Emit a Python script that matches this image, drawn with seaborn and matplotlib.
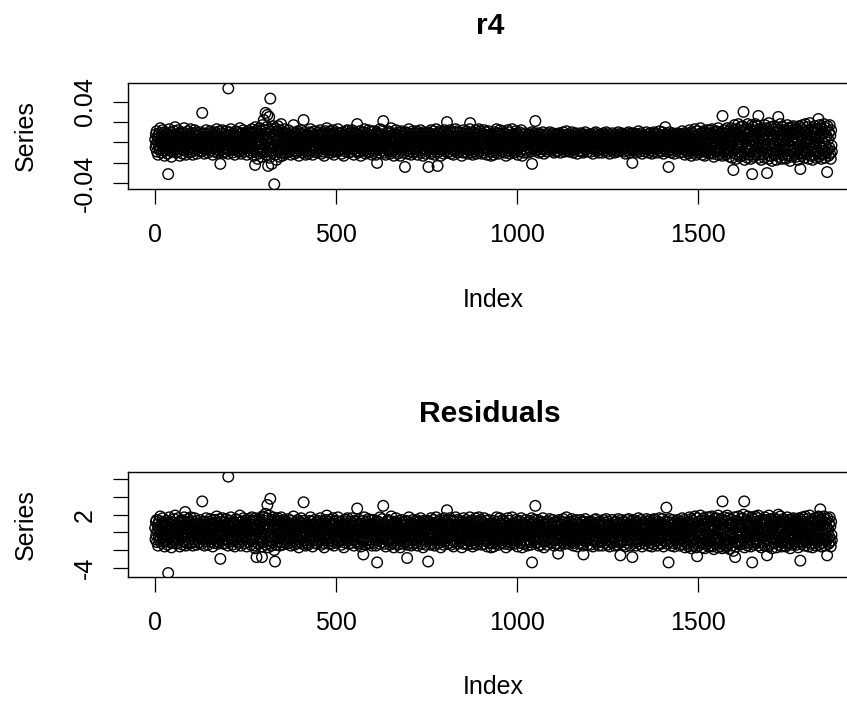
import numpy as np
import pandas as pd
import matplotlib
matplotlib.use("Agg")
import matplotlib.pyplot as plt
import seaborn as sns

# ---- data ----
# r4 series, in thousandths (0.001 units)
r4_permille = [
3,-5,8,-2,11,-9,1,6,-12,4,-3,9,-7,2,14,-6,0,-10,5,7,-4,12,-1,-8,3,10,-13,6,-2,1,
-6,4,9,-3,-11,7,-31,2,-5,13,-8,0,6,-2,10,-14,3,5,-9,8,-1,-4,11,2,-7,15,-3,6,-10,1,
7,-2,-9,12,4,-6,1,9,-13,3,-4,8,-1,10,-7,5,-11,2,6,-3,14,-8,0,-5,9,-12,4,7,-2,3,
-4,11,-7,2,6,-10,8,-1,13,-5,3,-9,5,0,-12,9,-3,7,-6,12,1,-8,4,-2,10,-11,6,-4,2,8,
-3,7,-8,2,10,-5,4,-1,-9,6,29,3,-6,9,-2,1,-11,5,8,-4,0,12,-7,3,-5,6,-10,2,9,-1,
4,-6,11,-2,-8,5,1,9,-4,-12,7,3,-3,6,-9,10,0,-5,8,-1,13,-7,2,-10,4,6,-3,-8,11,-2,
-21,5,-4,9,2,-7,12,-1,6,-10,3,-5,8,1,-9,4,11,-3,-6,7,0,-11,53,2,-8,10,-2,5,-4,13,
-5,8,1,-10,6,-3,9,-7,4,0,-12,7,-2,11,3,-8,5,-4,10,-1,-6,2,8,-9,14,-3,4,-11,6,1,
9,-4,-7,3,12,-2,5,-9,1,8,-6,10,-3,-12,4,7,-1,6,-8,2,11,-5,0,9,-10,3,-4,13,-6,2,
10,-6,4,-13,8,1,-22,15,-3,7,-9,12,-1,-16,6,3,-11,9,-5,14,2,-8,11,-4,-14,6,17,-2,-10,5,
22,-7,12,-3,9,29,-12,4,15,-9,27,1,-23,8,-5,25,-15,6,43,-2,11,-8,-21,13,3,-10,16,-4,7,-41,
5,-12,14,-3,8,-17,2,11,-6,16,-9,4,-1,12,-14,7,3,-10,18,-5,9,-2,-13,6,10,-7,1,13,-11,4,
-6,3,9,-2,-10,5,1,-7,12,-4,6,-9,2,8,-1,-12,4,10,-5,7,-3,0,17,-8,5,-11,3,9,-2,6,
1,-9,7,-4,11,2,-6,-13,5,9,-2,3,-8,12,-1,6,-10,4,8,-5,22,-3,10,-7,0,5,-12,7,-2,-9,
8,-1,4,-11,6,2,-7,10,-3,13,-5,1,9,-8,3,-12,7,-2,5,-6,11,0,-9,4,-4,8,2,-10,6,-1,
-3,10,-8,5,1,-6,12,-2,7,-11,4,-5,9,0,-9,6,3,-13,8,-1,-4,11,-7,2,14,-6,5,-3,9,-10,
4,-7,1,11,-5,8,-2,-10,6,3,-8,12,-1,5,-12,9,-4,2,7,-6,10,-3,0,-9,4,13,-7,6,-2,1,
-8,5,9,-3,2,-11,7,-1,10,-6,4,-13,8,1,-4,6,-9,11,-2,3,-7,12,-5,0,8,-10,2,5,-3,9,
6,-4,-9,2,12,-7,3,8,-1,-12,5,10,-6,1,-3,9,-8,4,18,-2,-10,7,0,-5,11,-9,3,6,-13,2,
-1,8,-6,4,10,-3,-8,1,13,-5,6,-11,3,-2,9,-7,5,0,-10,12,-4,2,7,-9,1,-6,11,-3,4,-12,
7,-2,5,-9,1,11,-6,3,-4,8,-12,2,10,-20,6,-3,9,-7,0,4,-10,13,-5,2,-1,7,-8,12,-4,3,
21,-5,2,-10,8,-3,6,-12,4,1,-7,9,-2,11,-8,3,-5,10,0,-11,6,-4,14,-6,2,-9,7,-1,5,-13,
3,9,-7,1,-4,12,-9,5,-2,8,-11,6,0,-6,10,-3,4,-13,7,2,-8,11,-1,-5,9,-10,3,6,-4,1,
-24,7,-3,10,-8,2,5,-11,9,-1,-6,13,-4,3,-9,6,1,-12,8,-2,4,-7,11,0,-10,5,-3,9,-6,2,
-9,4,11,-5,1,-12,7,-2,6,9,-8,3,-4,12,-1,-10,5,8,-6,2,-13,10,-3,4,-7,1,9,-11,6,-2,
5,-8,2,10,-4,-24,6,-1,9,-6,3,-11,12,-3,7,0,-9,4,-5,11,-2,8,-12,1,6,-7,13,-4,2,-10,
-23,9,-3,6,-9,1,11,-6,4,-13,8,-1,3,-7,10,-4,5,-11,2,12,-8,0,-5,9,-2,7,20,-10,4,-3,
8,-5,1,-9,12,-2,6,-11,3,9,-7,4,-1,10,-12,5,-3,7,0,-8,13,-6,2,-4,11,-10,6,-1,-5,3,
-2,10,-8,4,-5,7,1,-13,9,-3,5,-10,12,-1,-6,3,8,-9,2,-4,11,-7,6,0,-11,4,9,-2,-8,13,
19,-6,3,-10,7,-1,5,-12,10,-4,2,8,-9,1,-3,12,-7,4,-11,6,0,-5,9,-2,13,-8,3,-6,11,-1,
-4,7,-11,2,9,-6,4,-1,-10,12,-3,6,-8,1,10,-5,3,-12,7,-2,-7,11,0,5,-9,8,-4,2,-13,6,
2,-9,8,-3,5,-12,10,-1,-6,4,7,-10,1,13,-4,-8,6,-2,9,-11,3,-5,12,-7,0,8,-3,4,-9,1,
11,-4,-7,6,-2,9,-10,3,1,-13,8,-5,4,-1,12,-8,2,-6,10,-3,-11,7,5,-9,1,-4,13,-2,6,-7,
-1,5,-10,8,3,-6,11,-3,-8,2,9,-12,4,-2,7,-5,10,0,-9,6,-4,12,-7,1,-13,5,8,-3,2,-10,
4,-6,2,9,-3,-8,5,1,-10,7,-2,3,-5,8,-1,-7,6,2,-9,4,10,-21,3,-4,7,-1,-6,9,0,-3,
21,-5,3,-8,6,1,-2,9,-7,4,-10,2,7,-4,0,5,-9,8,-3,1,-6,10,-2,4,-11,6,-1,3,-7,8,
-2,6,-9,3,1,-5,8,-3,4,-7,10,-1,-4,6,2,-8,5,-2,9,-6,0,3,-10,7,-4,1,8,-5,2,-9,
5,-3,7,-8,2,-1,9,-6,4,-10,1,6,-4,8,-2,-7,3,10,-5,0,4,-9,7,-3,1,-6,11,-2,5,-8,
-6,2,8,-4,-9,5,1,-2,7,-7,3,10,-5,0,6,-10,4,-1,8,-3,-8,2,9,-6,3,-1,-11,7,1,-4,
3,-8,6,0,-5,9,-2,4,-9,1,7,-3,-10,5,-1,8,-6,2,10,-4,-7,3,6,-2,-9,5,1,-5,8,-1,
-4,7,1,-9,5,-2,8,-6,3,-11,6,0,-3,9,-7,2,-1,10,-5,4,-8,1,7,-3,5,-10,2,6,-6,0,
8,-3,-7,4,1,-10,6,-1,9,-5,2,-8,7,-2,3,-6,10,-4,0,5,-9,8,-1,-5,6,-11,3,1,-7,4,
-1,5,-8,9,-3,2,-6,7,0,-10,4,-4,8,1,-7,6,-2,-9,3,10,-5,2,-3,7,-8,4,1,-6,9,-2,
6,-7,3,-1,8,-9,2,5,-4,-11,7,0,-6,9,-2,4,-8,1,10,-3,-5,6,-10,3,8,-1,-7,2,-20,5,
-3,9,-6,1,4,-8,7,-2,-10,5,2,-5,8,-1,-7,11,-4,3,-9,6,0,-3,9,-6,2,-11,5,7,-2,1,
7,-4,1,-9,6,-1,-6,10,3,-7,5,-2,8,-10,2,-4,9,0,-8,4,-3,7,-11,1,6,-5,3,-9,10,-1,
-5,3,9,-7,1,-3,6,-10,4,8,-1,-6,2,11,-8,5,-2,-9,7,0,-4,10,-6,3,-11,6,1,-3,8,15,
2,-7,6,-2,-9,4,8,-5,-24,1,-3,10,-7,3,5,-10,0,7,-4,9,-8,2,-1,6,-11,4,-5,8,-2,-6,
5,1,-8,9,-3,-6,7,-1,3,-10,6,-4,2,8,-9,0,11,-5,4,-2,-7,9,1,-12,5,-3,7,-8,3,-1,
-9,6,2,-11,8,-4,12,-1,-7,5,10,-13,3,-2,9,-6,1,-10,7,4,-5,13,-8,0,6,-12,11,-3,-7,4,
8,-3,-10,5,1,-8,14,-6,3,9,-1,-12,7,-4,11,-9,2,6,-13,4,-2,10,-7,0,12,-5,-9,8,3,-11,
-2,12,-7,4,-10,9,1,-5,13,-11,6,-3,8,-14,2,10,-6,5,-1,-9,11,-4,7,0,-12,14,-8,3,-5,9,
6,-11,3,-6,10,-2,-13,26,-4,8,1,-9,12,-7,5,-1,-12,9,4,-6,14,-10,2,-3,11,-8,7,-14,0,6,
-8,14,-3,10,-15,5,1,-27,12,-7,17,-11,4,-2,9,-16,13,-5,7,-12,3,18,-9,-1,11,-14,6,15,-4,-10,
7,-13,16,-2,10,30,-9,4,-17,12,-6,1,14,-11,8,-4,-15,18,-1,9,-12,5,13,-8,2,-16,11,-3,17,-31,
3,15,-10,6,-14,1,12,-7,18,-3,-12,9,-1,16,-9,4,26,-15,7,-5,13,-11,0,10,-17,5,14,-6,-2,11,
-12,8,2,-15,17,-4,9,-10,14,-7,-30,12,-2,6,-16,19,3,-9,11,-13,1,15,-6,8,-18,4,-1,13,-11,7,
16,-5,-12,10,-1,14,-17,6,3,-9,11,25,-14,2,-7,13,-3,18,-10,5,-16,9,1,-12,15,-4,7,-8,12,-15,
-3,11,-16,8,4,-11,17,-6,1,14,-13,5,-2,10,-18,7,-9,15,3,-14,12,-4,-7,16,-1,9,-12,2,13,-10,
9,-14,5,13,-8,1,-17,11,-4,16,-10,6,-26,14,-2,8,-13,4,17,-7,-11,12,2,-15,10,-5,18,-9,-1,7,
-6,15,-11,3,12,-16,7,-2,19,-9,4,-13,10,1,-7,14,-17,6,-4,11,-12,16,0,-8,13,-15,5,9,-10,2,
12,-9,23,-14,5,17,-3,-11,8,15,-16,2,-6,13,-12,9,-1,18,-8,4,-15,11,-4,14,-10,6,-29,16,-7,3,
-13,10,-5,17,-11,7,-16,12,-3,-9,
]

# Residuals series, in tenths (0.1 units)
resid_tenths = [
5,-8,12,-3,14,-11,2,9,-15,6,-4,13,-9,3,18,-7,1,-12,8,10,-5,16,-2,-10,4,11,-16,7,-1,2,
-9,6,13,-4,-14,10,-46,3,-7,17,-11,1,8,-2,12,-17,4,7,-12,11,-1,-6,15,3,-9,19,-4,8,-13,2,
9,-2,-12,16,5,-8,2,12,-16,4,-5,11,-1,14,-10,7,-14,3,8,-4,17,-11,1,23,12,-15,5,10,-3,4,
-6,15,-10,3,8,-13,11,-1,17,-7,4,-12,7,0,-15,12,-4,9,-8,16,2,-11,6,-3,13,-14,8,-5,3,10,
-4,10,-11,3,14,-7,6,-1,-13,9,35,4,-8,12,-3,2,-15,7,11,-5,1,16,-10,4,-7,8,-14,3,12,-2,
6,-8,15,-3,-11,7,2,13,-6,-16,10,4,-4,9,-12,14,0,-7,11,-2,18,-10,3,-13,6,8,-4,-11,15,-2,
-30,7,-5,12,3,-9,16,-1,8,-13,4,-7,11,2,-12,6,15,-4,-8,10,1,-15,63,3,-11,13,-3,7,-6,17,
-7,11,2,-14,8,-4,12,-9,6,1,-16,10,-2,15,4,-11,7,-5,14,-1,-8,3,11,-12,19,-4,6,-15,8,2,
12,-6,-9,4,16,-3,7,-12,2,11,-8,14,-4,-16,6,9,-1,8,-11,3,15,-7,1,12,-14,4,-5,17,-8,3,
13,-7,5,-15,9,2,-18,16,-3,8,-28,14,-1,-12,7,4,-13,11,-6,15,3,-10,12,-5,-16,-28,18,-2,-11,6,
17,-8,13,-4,10,21,-14,5,16,-10,31,2,-17,9,-6,19,-13,7,38,-3,12,-9,-15,14,4,-11,17,-5,8,-20,
6,-33,15,-4,9,-14,2,12,-7,16,-10,5,-1,13,-15,8,3,-11,17,-6,10,-2,-14,7,11,-8,1,14,-12,5,
-8,4,12,-3,-13,7,1,-9,15,-5,8,-12,3,10,-1,-15,5,13,-7,9,-4,0,18,-10,6,-14,4,11,-3,8,
2,-12,9,-5,14,3,-8,-17,6,12,-3,4,-11,16,-1,8,-13,5,10,-6,34,-4,13,-9,0,7,-15,9,-3,-12,
10,-1,5,-14,8,3,-9,13,-4,17,-7,2,12,-10,4,-16,9,-3,7,-8,14,0,-12,5,-5,11,3,-13,8,-1,
-4,13,-10,7,1,-8,16,-3,9,-14,5,-7,12,0,-12,8,4,-17,10,-1,-5,14,-9,3,19,-8,6,-4,12,-13,
5,-9,2,14,-6,10,-3,-13,8,4,-10,16,-1,7,-15,12,-5,3,9,-8,13,-4,1,-12,5,17,-9,8,-3,2,
-10,7,12,-4,3,-14,9,-1,13,-8,5,-17,10,2,-5,8,-12,14,-3,4,-9,16,-6,0,10,-13,3,7,-4,12,
8,-5,-12,3,16,-9,4,10,-2,-15,7,13,-8,1,-4,12,-10,5,27,-3,-13,9,1,-7,14,-12,4,8,-16,3,
-1,10,-8,5,13,-25,-10,2,17,-7,8,-14,4,-2,12,-9,6,1,-13,15,-5,3,9,-12,2,-8,14,-4,5,-15,
9,-3,7,-12,2,14,-8,4,-5,11,-15,3,13,-34,8,-4,12,-9,1,5,-13,17,-6,3,-1,9,-11,15,-5,4,
30,-6,3,-13,10,-4,8,-16,5,2,-9,12,-3,14,-10,4,-7,13,0,-14,8,-5,18,-8,3,-12,9,-1,7,-17,
4,12,-9,2,-5,16,-12,7,-3,10,-14,8,1,-8,13,-4,5,-17,9,3,-10,14,-1,-7,12,-13,4,8,-5,2,
-11,9,-4,13,-10,3,-29,-14,12,-1,-8,17,-5,4,-12,8,2,-15,10,-3,5,-9,14,1,-13,7,-4,12,-8,3,
-12,5,14,-6,2,-15,9,-3,8,12,-10,4,-5,16,-1,-13,7,10,-8,3,-17,13,-4,5,-9,2,12,-14,8,-3,
7,-10,3,13,-33,-6,8,-1,12,-8,4,-14,16,-4,9,1,-12,5,-7,14,-3,10,-15,2,8,-9,17,-5,3,-13,
-8,12,-4,8,-12,2,14,-8,5,-17,10,-1,4,-9,13,-5,7,-14,3,16,-10,0,-7,12,-3,9,25,-13,5,-4,
10,-6,2,-12,16,-3,8,-14,4,12,-9,5,-1,13,-16,7,-4,9,1,-10,17,-8,3,-5,14,-13,8,-2,-7,4,
-3,13,-10,5,-7,9,2,-17,12,-4,7,-13,16,-1,-8,4,10,-12,3,-5,14,-9,8,0,-14,5,12,-3,-10,17,
12,-8,4,-13,9,-1,7,-16,13,-5,3,10,-12,2,-4,16,-9,5,-14,8,1,-7,12,-3,17,-10,4,-8,14,-1,
-5,9,-14,3,12,-8,5,-1,-13,16,-4,8,-10,2,13,-7,4,-16,9,-3,-9,14,0,7,-12,10,-5,3,-17,8,
3,-12,10,-4,7,-16,13,-1,-8,5,9,-13,2,17,-5,-10,8,-3,12,-14,4,-7,16,-9,1,10,-4,5,-12,2,
14,-5,-9,8,-3,12,-13,4,1,-17,10,-7,5,-1,16,-10,3,-8,13,-4,-14,9,7,-12,2,-5,17,-3,8,-9,
-1,7,-13,10,4,-8,14,-4,-10,3,12,-16,5,-3,9,-7,13,0,-12,8,-5,16,-9,2,-17,7,10,-4,3,-13,
6,-9,3,14,-4,-12,8,2,-15,11,-3,5,-8,13,-1,-11,9,3,-14,6,16,-34,4,-6,11,-1,-9,14,0,-5,
30,-8,5,-12,9,1,-3,14,-11,6,-15,3,11,-6,0,8,-14,12,-4,2,-9,16,-3,6,-17,9,-1,5,-10,12,
-3,9,-14,5,2,-8,12,-4,6,-11,15,-1,-6,9,3,-12,8,-3,14,-9,0,5,-15,11,-6,2,12,-8,3,-13,
8,-4,11,-24,3,-1,14,-9,6,-15,2,9,-6,12,-3,-11,5,15,-8,0,6,-13,11,-4,2,-9,17,-3,8,-12,
-9,3,12,-6,-13,8,2,-3,11,-10,5,15,-7,0,9,-15,6,-1,12,-4,-12,3,14,-9,5,-1,-16,11,2,-6,
5,-12,9,0,-8,14,-3,6,-13,2,11,-4,-15,-25,8,12,-9,3,15,-6,-10,5,9,-3,-14,8,2,-7,12,-1,
-6,11,2,-14,8,-3,12,-9,5,-16,9,0,-4,14,-10,3,-1,15,-8,6,-12,2,11,-4,8,-15,3,9,-9,0,
12,-4,-11,6,2,-15,9,-1,14,-8,3,-12,11,-3,5,-9,15,-6,0,8,-14,12,-1,-8,9,-16,5,2,-10,6,
-1,8,-12,14,-4,3,-9,11,0,-15,6,-6,12,2,-10,9,-3,-14,5,15,-8,3,-4,11,-12,-26,2,-9,14,-3,
9,-10,5,-1,12,-14,3,8,-6,-16,11,0,-9,14,-3,6,-12,2,15,-4,-8,9,-15,5,12,-1,-10,3,-28,8,
-4,14,-9,2,6,-12,11,-3,-15,8,3,-8,12,-1,-10,16,-6,5,-13,9,0,-4,14,-9,3,-16,8,11,-3,2,
11,-6,2,-13,9,-1,-9,15,5,-10,8,-3,12,-15,3,-6,14,0,-12,6,-4,11,-16,2,9,-7,5,-13,15,-1,
-7,5,14,-10,2,-4,9,-15,6,12,-1,-9,3,16,-12,8,-3,-13,11,0,-6,15,-9,5,-16,9,2,-4,12,8,
3,-10,28,-3,-13,6,12,-7,-34,2,-4,15,-10,5,8,-15,0,11,-6,14,-12,3,-1,9,-16,6,-7,12,-3,-9,
8,2,-12,14,-4,-9,11,-1,5,-15,9,-6,3,12,-13,0,16,-7,6,-3,-10,14,2,-17,8,-4,11,-12,5,-1,
-13,9,3,-16,12,-6,17,-1,-10,8,15,-18,5,-3,13,-9,2,-15,10,6,-7,18,-12,0,9,-17,16,-27,-10,6,
12,-4,-15,8,2,-12,19,-9,5,13,-1,-17,10,-6,16,-13,3,9,-18,6,-3,14,-10,0,17,-7,-13,12,4,-16,
-3,17,-10,6,-15,13,2,-7,18,-16,9,-4,12,-19,3,15,-9,7,-1,-13,16,-6,10,0,-17,19,-12,4,-7,13,
9,-16,4,-9,15,-3,-18,35,-6,12,2,-13,17,-10,7,-1,-17,13,6,-9,19,-15,3,-4,16,-12,10,-19,0,9,
-8,14,-3,10,-15,5,1,-21,12,-7,17,-11,-28,-2,9,-16,13,-5,7,-12,3,18,-9,-1,11,-14,6,15,-4,-10,
7,-13,16,-2,10,20,-9,35,-17,12,-6,1,14,-11,8,-4,-15,18,-1,9,-12,5,13,-8,2,-16,11,-3,17,-34,
3,15,-10,6,-14,1,12,-7,18,-3,-12,9,-1,16,-9,4,19,-15,7,-5,13,-11,0,10,-17,5,14,-6,-2,11,
-12,8,2,-15,17,-4,9,-10,14,-7,-26,12,-2,6,-16,19,3,-9,11,-13,1,15,-6,8,-18,4,-1,13,-11,7,
16,-5,-12,10,-1,14,-17,6,3,-9,11,20,-14,2,-7,13,-3,18,-10,5,-16,9,1,-12,15,-4,7,-8,12,-15,
-3,11,-16,8,4,-11,17,-6,1,14,-13,5,-2,10,-18,7,-9,15,3,-14,12,-4,-7,16,-1,9,-12,2,13,-10,
9,-14,5,13,-8,1,-17,11,-4,16,-10,6,-32,14,-2,8,-13,4,17,-7,-11,12,2,-15,10,-5,18,-9,-1,7,
-6,15,-11,3,12,-16,7,-2,19,-9,4,-13,10,1,-7,14,-17,6,-4,11,-12,16,0,-8,13,-15,5,9,-10,2,
12,-9,18,-14,5,17,-3,26,8,15,-16,2,-6,13,-12,9,-1,18,-8,4,-15,11,-4,14,-10,6,-26,16,-7,3,
-13,10,-5,17,-11,7,-16,12,-3,-9,
]

titles = ["r4", "Residuals"]
x_label = "Index"
y_label = "Series"
x_ticks = [0, 500, 1000, 1500]
x_ticklabels = ["0", "500", "1000", "1500"]
r4_yticks = [-0.04, -0.02, 0.0, 0.02, 0.04]
r4_yticklabels = ["-0.04", "", "", "", "0.04"]
res_yticks = [-4, -2, 0, 2, 4, 6]
res_yticklabels = ["-4", "", "", "2", "", ""]

r4 = np.array(r4_permille, dtype=float) / 1000.0
resid = np.array(resid_tenths, dtype=float) / 10.0

# ---- style ----
sns.set_style("white")
plt.rcParams["font.family"] = ["Liberation Sans", "DejaVu Sans"]
plt.rcParams["text.color"] = "black"
plt.rcParams["axes.labelcolor"] = "black"

W, H = 847, 702
fig = plt.figure(figsize=(W / 100, H / 100), dpi=100)


def add_axes(left, top, right, bottom):
    return fig.add_axes([left / W, 1 - bottom / H, (right - left) / W, (bottom - top) / H])


panels = [
    (add_axes(128, 83, 859, 189), r4, titles[0], (-0.0456, 0.0583), r4_yticks, r4_yticklabels),
    (add_axes(128, 471.7, 859, 577), resid, titles[1], (-5.05, 6.86), res_yticks, res_yticklabels),
]

for ax, vals, title, ylim, yt, ytl in panels:
    df = pd.DataFrame({"Index": np.arange(1, len(vals) + 1), "Series": vals})
    sns.scatterplot(data=df, x="Index", y="Series", ax=ax, color="black",
                    s=58, linewidth=1.0, legend=False)
    coll = ax.collections[-1]
    coll.set_facecolor("none")
    coll.set_edgecolor("black")
    coll.set_linewidth(1.0)

    ax.set_xlim(-74, 1945)
    ax.set_ylim(*ylim)
    ax.set_xticks(x_ticks)
    ax.set_xticklabels(x_ticklabels)
    ax.set_yticks(yt)
    ax.set_yticklabels(ytl, rotation=90, va="center", ha="right")
    ax.tick_params(axis="both", direction="out", length=10.5, width=0.9,
                   colors="black", labelsize=18, left=True, bottom=True)
    ax.tick_params(axis="x", pad=14)
    ax.tick_params(axis="y", pad=12)
    for sp in ax.spines.values():
        sp.set_visible(True)
        sp.set_color("black")
        sp.set_linewidth(1.0)

    ax.set_xlabel(x_label, fontsize=18, color="black")
    ax.xaxis.set_label_coords(0.5, -0.935)
    ax.set_ylabel(y_label, fontsize=18, color="black")
    ax.yaxis.set_label_coords(-0.123, 0.5)
    ax.set_title(title, fontsize=21.6, fontweight="bold", pad=35.5, x=0.495,
                 color="black")

fig.savefig("out.png", dpi=100)
